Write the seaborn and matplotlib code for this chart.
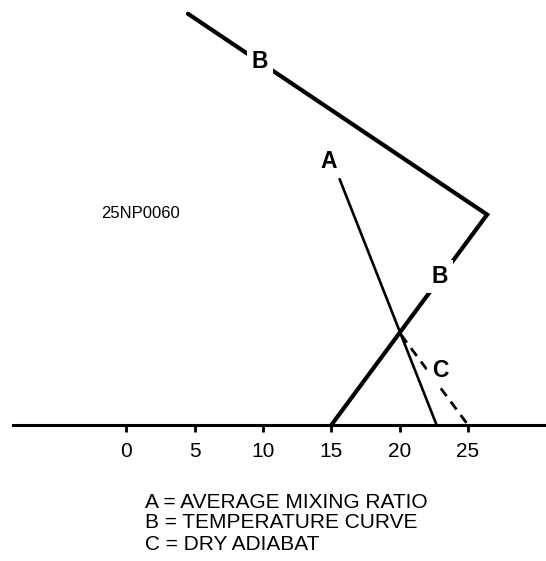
import matplotlib
matplotlib.use("Agg")
import matplotlib.pyplot as plt
import seaborn as sns
import pandas as pd

# ---- data (x in degrees on the scale, y in arbitrary height units) ----
tick_values = [0, 5, 10, 15, 20, 25]
tick_labels = ["0", "5", "10", "15", "20", "25"]

temp_x = [15.0, 26.4, 4.5]          # B = temperature curve
temp_y = [0.0, 15.4, 30.1]
mix_x = [15.6, 22.7]                # A = average mixing ratio
mix_y = [18.0, 0.0]
dry_x = [20.1, 25.0]                # C = dry adiabat
dry_y = [6.6, 0.0]

curve_labels = ["B", "B", "A", "C"]
label_x = [9.77, 22.95, 14.8, 22.95]
label_y = [26.6, 10.86, 19.3, 4.0]

legend_lines = ["A = AVERAGE MIXING RATIO", "B = TEMPERATURE CURVE", "C = DRY ADIABAT"]
figure_id = "25NP0060"

sns.set_theme(style="white")
plt.rcParams["font.family"] = ["Liberation Sans", "DejaVu Sans"]
plt.rcParams["text.color"] = "black"
plt.rcParams["xtick.color"] = "black"

fig = plt.figure(figsize=(5.46, 5.61), dpi=100)
ax = fig.add_axes([0, 0, 1, 1])
ax.set_facecolor("none")

temp = pd.DataFrame({"x": temp_x, "y": temp_y})
mix = pd.DataFrame({"x": mix_x, "y": mix_y})
dry = pd.DataFrame({"x": dry_x, "y": dry_y})

sns.lineplot(data=temp, x="x", y="y", sort=False, estimator=None, color="black",
             linewidth=3.0, ax=ax, solid_capstyle="round", solid_joinstyle="miter")
sns.lineplot(data=mix, x="x", y="y", sort=False, estimator=None, color="black",
             linewidth=1.9, ax=ax)
sns.lineplot(data=dry, x="x", y="y", sort=False, estimator=None, color="black",
             linewidth=2.0, ax=ax, dashes=False)
ax.lines[-1].set_linestyle((0, (3.5, 2.5)))

for t, x, y in zip(curve_labels, label_x, label_y):
    ax.text(x, y, t, ha="center", va="center", fontsize=16.5, fontweight="bold",
            family="Liberation Sans", color="black",
            bbox=dict(facecolor="white", edgecolor="none", pad=3.5), zorder=5)

# data limits chosen so the 0..25 scale sits where it does in the picture
ax.set_xlim(-9.26, 30.71)
ax.set_ylim(-9.96, 31.11)

ax.spines["left"].set_visible(False)
ax.spines["top"].set_visible(False)
ax.spines["right"].set_visible(False)
ax.spines["bottom"].set_position(("data", 0))
ax.spines["bottom"].set_bounds(-8.3, 30.71)
ax.spines["bottom"].set_linewidth(2.2)
ax.spines["bottom"].set_color("black")
ax.set_xticks(tick_values)
ax.set_xticklabels(tick_labels, fontsize=15)
ax.set_yticks([])
ax.tick_params(axis="x", direction="out", length=5, width=2, pad=7, colors="black",
               bottom=True)
ax.set_xlabel("")
ax.set_ylabel("")

ax.text(180 / 546, 1 - 213 / 561, figure_id, transform=ax.transAxes, ha="right",
        va="center", fontsize=12, color="black")

for i, line in enumerate(legend_lines):
    ax.text(145 / 546, 1 - (502 + 21 * i) / 561, line, transform=ax.transAxes,
            ha="left", va="center", fontsize=15, color="black")

fig.savefig("out.png", dpi=100, facecolor="white")
